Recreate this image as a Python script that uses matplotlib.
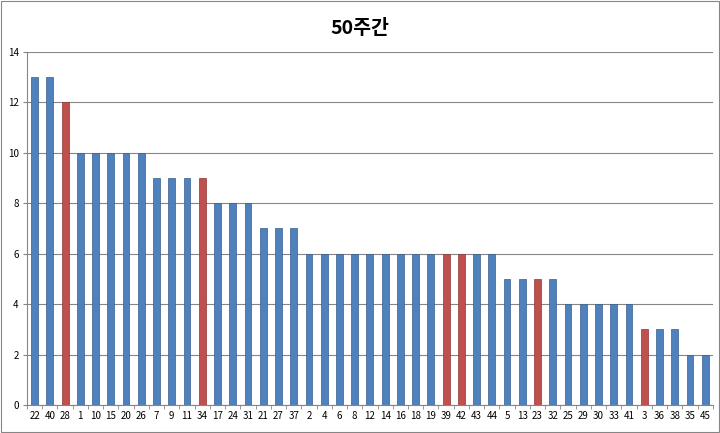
import matplotlib
matplotlib.use("Agg")
import matplotlib.pyplot as plt
import numpy as np

plt.rcParams['font.family'] = ['Noto Sans CJK KR', 'DejaVu Sans']

# ball numbers, sorted by count
numbers = ['22', '40', '28', '1', '10', '15', '20', '26', '7', '9', '11', '34',
           '17', '24', '31', '21', '27', '37', '2', '4', '6', '8', '12', '14',
           '16', '18', '19', '39', '42', '43', '44', '5', '13', '23', '32',
           '25', '29', '30', '33', '41', '3', '36', '38', '35', '45']
counts = [13, 13, 12, 10, 10, 10, 10, 10, 9, 9, 9, 9,
          8, 8, 8, 7, 7, 7, 6, 6, 6, 6, 6, 6,
          6, 6, 6, 6, 6, 6, 6, 5, 5, 5, 5,
          4, 4, 4, 4, 4, 3, 3, 3, 2, 2]
highlight = ['28', '34', '39', '42', '23', '3']

blue = '#4F81BD'
red = '#C0504D'

fig = plt.figure(figsize=(7.2, 4.33), dpi=100)
ax = fig.add_axes([0.0375, 0.0647, 0.9525, 0.8153])

x = np.arange(len(numbers))
colors = [red if n in highlight else blue for n in numbers]
edges = ['#8C3836' if n in highlight else '#385D8A' for n in numbers]
ax.bar(x, counts, width=0.45, color=colors, edgecolor=edges, linewidth=0.5, zorder=3)

ax.set_xlim(-0.5, len(numbers) - 0.5)
ax.set_ylim(0, 14)
ax.set_yticks(range(0, 15, 2))
ax.set_xticks(x)
ax.set_xticklabels(numbers)
ax.set_xticks(np.arange(-0.5, len(numbers), 1), minor=True)
ax.tick_params(axis='x', which='major', length=0, labelsize=7, pad=4)
ax.tick_params(axis='x', which='minor', length=3, color='#868686', direction='out')
ax.tick_params(axis='y', length=3, color='#868686', labelsize=7, pad=3)

ax.grid(axis='y', color='#868686', linewidth=0.8, zorder=0)
for side in ['top', 'right']:
    ax.spines[side].set_visible(False)
ax.spines['left'].set_color('#868686')
ax.spines['bottom'].set_color('#868686')

fig.text(0.5, 0.935, '50주간', ha='center', va='center', fontsize=14, fontweight='bold')

# outer chart border
fig.patches.append(plt.Rectangle((0.002, 0.002), 0.996, 0.996, transform=fig.transFigure,
                                 fill=False, edgecolor='#868686', linewidth=0.8))

fig.savefig('out.png', dpi=100)
